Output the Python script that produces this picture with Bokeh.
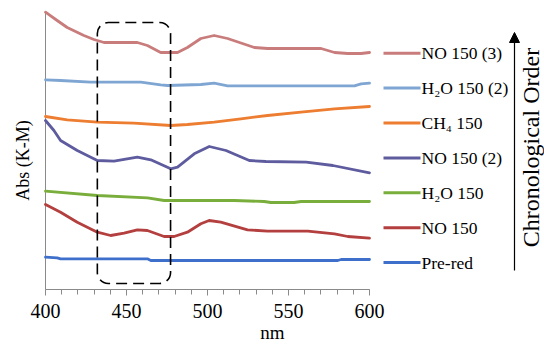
import math
from bokeh.plotting import figure
from bokeh.models import BoxAnnotation, Arrow, NormalHead, FixedTicker, Range1d
from bokeh.core.properties import value
from bokeh.embed import file_html
from bokeh.resources import INLINE

# ---------------- data ----------------
nm_pre = [400, 407.2, 409.3, 462.9, 465, 580.4, 582.5, 600]
abs_pre = [0.323, 0.317, 0.307, 0.307, 0.29, 0.29, 0.30, 0.30]

nm_no1 = [400, 409.3, 419.6, 432, 440.2, 448.5, 456.7, 462.9, 473.2, 479.4,
          487.6, 495.9, 501, 508.2, 524.7, 537.1, 561.9, 578.4, 586.6, 600]
abs_no1 = [0.85, 0.773, 0.673, 0.573, 0.54, 0.563, 0.597, 0.59, 0.53, 0.53,
           0.573, 0.657, 0.69, 0.673, 0.597, 0.583, 0.583, 0.557, 0.53, 0.513]

nm_h2o1 = [400, 432, 463, 473.2, 516.5, 535, 539.1, 553.5, 557.7, 600]
abs_h2o1 = [0.983, 0.94, 0.917, 0.89, 0.89, 0.88, 0.87, 0.87, 0.88, 0.88]

nm_no2 = [400, 405.2, 409.3, 419.6, 432, 442.3, 456.7, 465, 477.3, 481.5,
          491.8, 501.1, 511.4, 525.8, 536.1, 560.9, 577.4, 600]
abs_no2 = [1.69, 1.59, 1.49, 1.39, 1.29, 1.283, 1.323, 1.297, 1.207, 1.223,
           1.357, 1.43, 1.39, 1.29, 1.28, 1.273, 1.24, 1.167]

nm_ch4 = [400, 413.4, 432, 454.6, 477.3, 487.6, 504.1, 520.6, 537.1, 557.7, 578.4, 600]
abs_ch4 = [1.73, 1.697, 1.673, 1.663, 1.64, 1.65, 1.673, 1.707, 1.74, 1.773, 1.807, 1.83]

nm_h2o2 = [400, 409.3, 427.8, 458.8, 471.1, 475.3, 495.9, 504.1, 512.4, 590.7, 594.8, 600]
abs_h2o2 = [2.097, 2.09, 2.073, 2.073, 2.047, 2.04, 2.05, 2.063, 2.037, 2.037, 2.057, 2.063]

nm_no3 = [400, 407.2, 413.4, 423.7, 429.9, 436.1, 456.7, 462.9, 471.1, 481.5, 487.6,
          495.9, 504.1, 512.4, 528.9, 537.1, 570.1, 578.4, 586.6, 594.8, 600]
abs_no3 = [2.773, 2.69, 2.62, 2.54, 2.50, 2.47, 2.47, 2.44, 2.37, 2.37, 2.42,
           2.51, 2.54, 2.51, 2.42, 2.41, 2.41, 2.37, 2.36, 2.36, 2.37]

series_names = ["NO 150 (3)", "H\u2082O 150 (2)", "CH\u2084 150", "NO 150 (2)",
                "H\u2082O 150", "NO 150", "Pre-red"]
series_x = [nm_no3, nm_h2o2, nm_ch4, nm_no2, nm_h2o1, nm_no1, nm_pre]
series_y = [abs_no3, abs_h2o2, abs_ch4, abs_no2, abs_h2o1, abs_no1, abs_pre]
series_colors = ["#C97C7C", "#7FA6D3", "#ED7D31", "#5E5C9E", "#7AAE3C", "#B43F3F", "#3E6FCB"]

x_ticks = [400, 450, 500, 550, 600]
x_minor = list(range(400, 601, 10))
box_nm = (432.0, 477.2)

# ---------------- layout ----------------
S = 1.62                      # px per nm
X0 = 400 - 45 / S
X1 = X0 + 544 / S
def nm_at(px):
    return X0 + px / S
def y_at(py):
    return (289 - py) / 100.0

FONT = "Liberation Serif"
p = figure(frame_width=544, frame_height=289, x_range=Range1d(X0, X1),
           y_range=Range1d(0, 2.89), output_backend="svg", toolbar_location=None,
           min_border=0, y_axis_location=None)
p.outline_line_color = None
p.xgrid.visible = False
p.ygrid.visible = False
p.background_fill_color = "white"
p.border_fill_color = "white"

ax = p.xaxis[0]
ax.bounds = (400, 600)
ax.ticker = FixedTicker(ticks=x_ticks, minor_ticks=x_minor)
ax.axis_line_color = "#8a8a8a"
ax.major_tick_line_color = "#8a8a8a"
ax.minor_tick_line_color = "#8a8a8a"
ax.major_tick_in = 0
ax.major_tick_out = 6
ax.minor_tick_in = 0
ax.minor_tick_out = 5
ax.major_label_text_font = FONT
ax.major_label_text_font_size = "20px"
ax.major_label_text_color = "black"
ax.major_label_standoff = 8
ax.axis_label = "nm"
ax.axis_label_text_font = FONT
ax.axis_label_text_font_size = "19px"
ax.axis_label_text_font_style = "normal"
ax.axis_label_text_color = "black"
ax.axis_label_standoff = 1

# y axis line
p.segment(x0=[400], y0=[0], x1=[400], y1=[y_at(11)], line_color="#8a8a8a", line_width=1)

# series
for xs, ys, c in zip(series_x, series_y, series_colors):
    p.line(xs, ys, line_color=c, line_width=2.8, line_join="round", line_cap="round")

# dashed rounded box
p.add_layout(BoxAnnotation(left=box_nm[0], right=box_nm[1], top=y_at(22), bottom=y_at(283),
                           fill_alpha=0, line_color="black", line_alpha=1.0, line_width=1.6,
                           line_dash="11 6", border_radius=11))

# legend
leg_py = [52.7 + 34.9 * i for i in range(len(series_names))]
leg_y = [y_at(v) for v in leg_py]
p.segment(x0=[nm_at(383)] * 7, y0=leg_y, x1=[nm_at(420)] * 7, y1=leg_y,
          line_color=series_colors, line_width=3)
p.text(x=[nm_at(421)] * 7, y=leg_y, text=series_names, text_font=value(FONT),
       text_font_size="17.5px", text_baseline="middle", text_align="left", text_color="black")

# axis title (y)
p.text(x=[nm_at(22)], y=[y_at(160)], text=["Abs (K-M)"], angle=math.pi / 2,
       text_font=value(FONT), text_font_size="18px", text_baseline="middle",
       text_align="center", text_color="black")

# chronological arrow
p.add_layout(Arrow(end=NormalHead(size=10, fill_color="black", line_color="black"),
                   x_start=nm_at(514), y_start=y_at(270), x_end=nm_at(514), y_end=y_at(32),
                   line_color="black", line_width=1.2))
p.text(x=[nm_at(530)], y=[y_at(147)], text=["Chronological Order"], angle=math.pi / 2,
       text_font=value(FONT), text_font_size="24px", text_baseline="middle",
       text_align="center", text_color="black")

open("out.html", "w").write(file_html(p, INLINE))
